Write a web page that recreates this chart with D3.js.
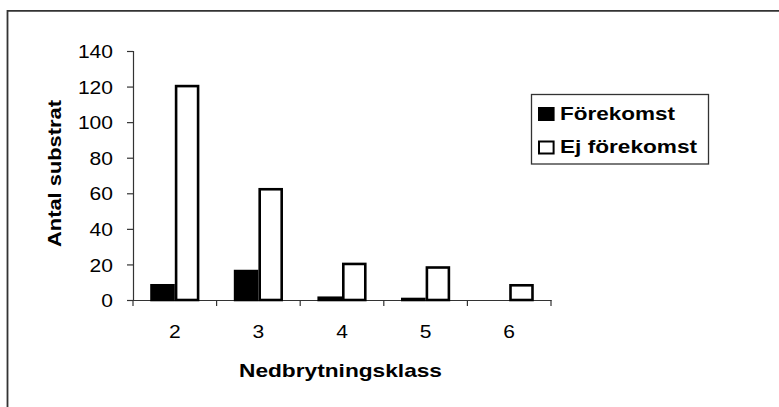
<!DOCTYPE html>
<html>
<head>
<meta charset="utf-8">
<script src="https://cdn.jsdelivr.net/npm/d3@7"></script>
<style>
  body { margin: 0; background: #fff; }
  text { font-family: "Liberation Sans", Arial, sans-serif; fill: #000; }
</style>
</head>
<body>
<svg width="779" height="407"></svg>
<script>
// data
var classes = ["2", "3", "4", "5", "6"];
var seriesNames = ["Förekomst", "Ej förekomst"];
var forekomst = [9, 17, 2, 1, 0];
var ejForekomst = [121, 63, 21, 19, 9];
var yTicks = [0, 20, 40, 60, 80, 100, 120, 140];
var xTitle = "Nedbrytningsklass";
var yTitle = "Antal substrat";

var svg = d3.select("svg");
var digitW = 11.7; // the original font is drawn wider than Arial

// outer frame (only top and left edges are inside the picture)
svg.append("path")
    .attr("d", "M7.5,407V10.8H779")
    .attr("fill", "none")
    .attr("stroke", "#333")
    .attr("stroke-width", 1.8);

var x = d3.scaleBand().domain(classes).range([133, 551]).paddingInner(0).paddingOuter(0);
var xs = d3.scaleBand().domain(seriesNames).range([0, x.bandwidth()]).paddingOuter(0.7).paddingInner(0);
var y = d3.scaleLinear().domain([0, 140]).range([300, 51]);
var fills = { "Förekomst": "#000", "Ej förekomst": "#fff" };

// y axis
var yAxis = svg.append("g")
    .attr("transform", "translate(133,0)")
    .call(d3.axisLeft(y).tickValues(yTicks).tickSize(6).tickPadding(14));
yAxis.select(".domain").attr("stroke", "#333").attr("stroke-width", 1.2);
yAxis.selectAll(".tick line").attr("stroke", "#333").attr("stroke-width", 1.2);
yAxis.selectAll(".tick text")
    .attr("font-size", 18.5)
    .attr("dy", "0.36em")
    .attr("textLength", function(d) { return String(d).length * digitW; })
    .attr("lengthAdjust", "spacingAndGlyphs");

// x axis: line, labels at band centres, ticks at band edges
var xAxis = svg.append("g")
    .attr("transform", "translate(0,300)")
    .call(d3.axisBottom(x).tickSize(0).tickPadding(25));
xAxis.select(".domain").attr("stroke", "#333").attr("stroke-width", 1.2);
xAxis.selectAll(".tick text")
    .attr("font-size", 18.5)
    .attr("textLength", function(d) { return d.length * digitW; })
    .attr("lengthAdjust", "spacingAndGlyphs");
var edges = classes.map(function(c) { return x(c); }).concat([x(classes[classes.length - 1]) + x.step()]);
xAxis.selectAll(".edge")
    .data(edges)
    .enter().append("line")
    .attr("class", "edge")
    .attr("x1", function(d) { return d; })
    .attr("x2", function(d) { return d; })
    .attr("y1", 0)
    .attr("y2", 6)
    .attr("stroke", "#333")
    .attr("stroke-width", 1.2);

// bars
var rows = [];
classes.forEach(function(c, i) {
    rows.push({ cls: c, s: seriesNames[0], v: forekomst[i] });
    rows.push({ cls: c, s: seriesNames[1], v: ejForekomst[i] });
});
var sw = 2.6;
svg.append("g").selectAll("rect")
    .data(rows.filter(function(d) { return d.v > 0; }))
    .enter().append("rect")
    .attr("x", function(d) { return x(d.cls) + xs(d.s) + sw / 2; })
    .attr("width", xs.bandwidth() - sw)
    .attr("y", function(d) { return Math.min(y(d.v) + sw / 2, y(0) - 1); })
    .attr("height", function(d) { return Math.max(y(0) - y(d.v) - sw / 2, 1); })
    .attr("fill", function(d) { return fills[d.s]; })
    .attr("stroke", "#000")
    .attr("stroke-width", sw);

// axis titles
svg.append("text")
    .attr("x", 340.5)
    .attr("y", 377)
    .attr("text-anchor", "middle")
    .attr("font-size", 18.5)
    .attr("font-weight", "bold")
    .attr("textLength", 203)
    .attr("lengthAdjust", "spacingAndGlyphs")
    .text(xTitle);

svg.append("text")
    .attr("transform", "translate(61,173.5) rotate(-90)")
    .attr("text-anchor", "middle")
    .attr("font-size", 18.5)
    .attr("font-weight", "bold")
    .attr("textLength", 147)
    .attr("lengthAdjust", "spacingAndGlyphs")
    .text(yTitle);

// legend
var legend = svg.append("g");
legend.append("rect")
    .attr("x", 531.5).attr("y", 94.5)
    .attr("width", 177).attr("height", 69.5)
    .attr("fill", "#fff")
    .attr("stroke", "#333")
    .attr("stroke-width", 1.3);
var legendW = { "Förekomst": 115, "Ej förekomst": 137 };
var item = legend.selectAll(".item")
    .data(seriesNames)
    .enter().append("g")
    .attr("class", "item")
    .attr("transform", function(d, i) { return "translate(538," + (107 + i * 33.5) + ")"; });
item.append("rect")
    .attr("x", 1).attr("y", 1)
    .attr("width", 14.6).attr("height", 12)
    .attr("fill", function(d) { return fills[d]; })
    .attr("stroke", "#000")
    .attr("stroke-width", 2);
item.append("text")
    .attr("x", 22)
    .attr("y", 12.5)
    .attr("font-size", 18)
    .attr("font-weight", "bold")
    .attr("textLength", function(d) { return legendW[d]; })
    .attr("lengthAdjust", "spacingAndGlyphs")
    .text(function(d) { return d; });
</script>
</body>
</html>
